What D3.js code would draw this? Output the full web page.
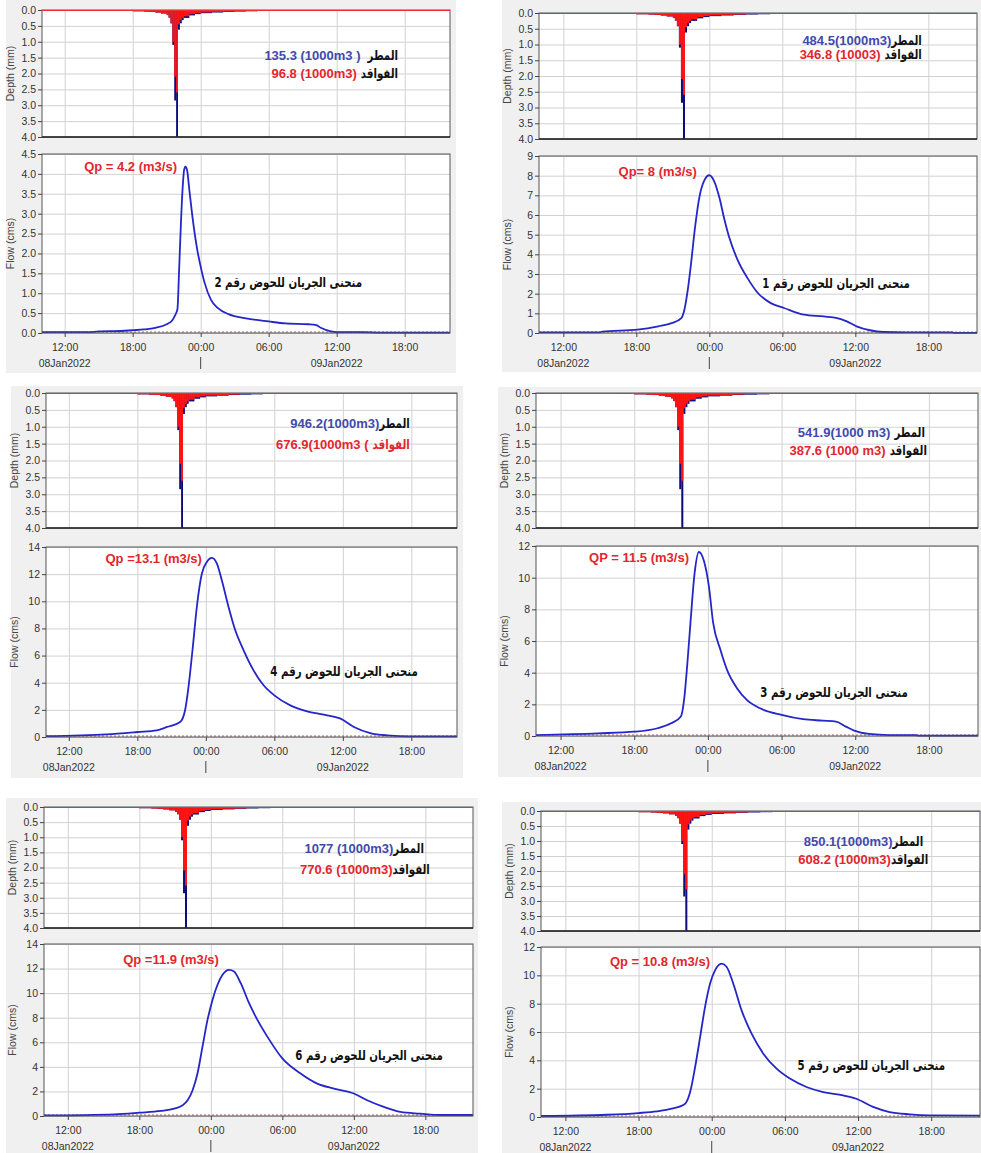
<!DOCTYPE html>
<html>
<head>
<meta charset="utf-8">
<script src="https://cdn.jsdelivr.net/npm/d3@7"></script>
<style>
  body { margin: 0; background: #fff; }
  svg text { font-family: "Liberation Sans", Arial, sans-serif; }
  .axis text { font-size: 10.5px; fill: #333; }
  .axis line { stroke: #444; }
  .axis path { display: none; }
  .grid line { stroke: #d2d2d2; }
  .grid path { display: none; }
  .num { font-size: 13px; font-weight: bold; direction: ltr; unicode-bidi: bidi-override; }
  .ar { font-family: "DejaVu Sans", sans-serif; font-size: 13.5px; font-weight: bold; }
</style>
</head>
<body>
<svg id="chart" width="981" height="1153"></svg>
<script>
// hours are counted from 08Jan2022 00:00 (24 = 09Jan2022 00:00)
const startHour = 10;
const endHour = 46;

// hyetograph, same storm in every panel: bar start hour, total rain (mm), loss (mm)
const rainHours = [15, 16, 17, 18, 19, 19.5, 20, 20.5, 21, 21.1667, 21.3333, 21.5, 21.6667, 21.8333,
  22, 22.1667, 22.3333, 22.5, 23, 23.5, 24, 25, 26, 27, 28, 29];
const rainTotal = [0.02, 0.02, 0.03, 0.04, 0.05, 0.06, 0.08, 0.11, 0.16, 0.24, 0.42, 1.1, 2.85, 4.0,
  0.62, 0.42, 0.32, 0.25, 0.17, 0.13, 0.1, 0.08, 0.06, 0.05, 0.04, 0.03];
const rainLoss = [0.02, 0.02, 0.03, 0.04, 0.05, 0.06, 0.08, 0.11, 0.16, 0.24, 0.42, 1.0, 2.1, 2.6,
  0.45, 0.32, 0.25, 0.2, 0.13, 0.1, 0.08, 0.06, 0.05, 0.03, 0.02, 0];
const rainEndHour = 34;

// outflow hydrographs [hour, flow (cms)]
const flowBasin2 = [[10, 0.02], [14, 0.02], [15, 0.04], [17, 0.05], [18, 0.07], [19, 0.09], [20, 0.13],
  [21, 0.22], [21.5, 0.32], [21.75, 0.45], [21.95, 0.6], [22.1, 1.6], [22.25, 2.7], [22.4, 3.6],
  [22.55, 4.12], [22.65, 4.18], [22.8, 4.1], [23.0, 3.6], [23.27, 2.93], [23.7, 2.09], [24, 1.67],
  [24.35, 1.26], [24.9, 0.84], [25.5, 0.63], [26.5, 0.47], [28, 0.37], [30, 0.29], [31.5, 0.24],
  [33.5, 0.22], [34.2, 0.2], [34.6, 0.13], [35.5, 0.04], [36, 0.02], [38.3, 0.02], [40, 0.01], [46, 0.01]];
const flowBasin1 = [[10, 0.03], [15, 0.03], [15.2, 0.07], [18.1, 0.17], [19.8, 0.34], [20.9, 0.5],
  [21.7, 0.76], [21.95, 1.18], [22.23, 2.2], [22.5, 3.55], [22.83, 5.4], [23.18, 6.9], [23.6, 7.77],
  [24, 8.02], [24.41, 7.7], [24.82, 6.9], [25.23, 5.8], [25.64, 4.85], [26.32, 3.72], [27.14, 2.79],
  [27.95, 2.06], [29.05, 1.52], [30.14, 1.27], [31.77, 0.93], [33.4, 0.84], [34.5, 0.76], [35.3, 0.59],
  [36.1, 0.34], [37.2, 0.14], [38.3, 0.05], [40.2, 0.03], [43.9, 0.03], [44.2, 0.01], [46, 0.01]];
const flowBasin4 = [[10, 0.06], [15.3, 0.2], [18, 0.37], [19.7, 0.49], [20.6, 0.74], [21.75, 1.1],
  [22.18, 1.97], [22.48, 3.68], [22.86, 6.63], [23.21, 9.58], [23.65, 12.03], [24.09, 12.9],
  [24.53, 13.2], [24.97, 12.77], [25.4, 11.55], [25.99, 9.58], [26.58, 7.86], [27.31, 6.39],
  [28.18, 4.91], [29.06, 3.81], [30, 3.07], [31.4, 2.33], [32.87, 1.89], [34.33, 1.65], [35.8, 1.35],
  [36.97, 0.74], [38.4, 0.29], [39.9, 0.12], [41.9, 0.05], [46, 0.05]];
const flowBasin3 = [[10, 0.06], [15.07, 0.17], [18, 0.27], [19.9, 0.49], [21, 0.8], [21.8, 1.23],
  [22.06, 2.28], [22.33, 4.6], [22.6, 7.35], [22.92, 10.3], [23.27, 11.62], [23.68, 11.05],
  [24.08, 9.47], [24.43, 7.14], [25.02, 5.45], [25.56, 4.18], [26.37, 3.02], [27.17, 2.28],
  [28.25, 1.75], [30, 1.33], [31.75, 1.06], [33.36, 0.97], [34.44, 0.91], [35.25, 0.59], [35.92, 0.34],
  [37.13, 0.13], [38.74, 0.06], [40.9, 0.06], [41.2, 0.02], [46, 0.02]];
const flowBasin6 = [[10, 0.05], [15.9, 0.14], [18, 0.27], [19.8, 0.41], [20.93, 0.6], [21.63, 0.87],
  [22.05, 1.28], [22.47, 2.1], [22.88, 3.46], [23.3, 5.64], [23.72, 7.82], [24.14, 9.45], [24.56, 10.68],
  [24.98, 11.49], [25.53, 11.9], [25.95, 11.77], [26.51, 10.81], [27.21, 9.18], [27.91, 7.82],
  [28.74, 6.46], [30, 4.69], [31.53, 3.46], [32.93, 2.64], [34.33, 2.23], [36, 1.83], [37.12, 1.28],
  [38.51, 0.74], [39.91, 0.33], [41.58, 0.19], [43.26, 0.08], [46, 0.08]];
const flowBasin5 = [[10, 0.07], [15.4, 0.16], [18, 0.28], [19.5, 0.4], [20.73, 0.59], [21.82, 0.94],
  [22.23, 1.76], [22.64, 3.53], [23.05, 5.65], [23.45, 7.76], [23.86, 9.41], [24.27, 10.35],
  [24.82, 10.82], [25.23, 10.59], [25.77, 9.41], [26.45, 7.53], [27.27, 5.88], [28.23, 4.47],
  [29.32, 3.41], [30.41, 2.71], [31.77, 2.12], [33.14, 1.76], [34.77, 1.53], [35.86, 1.29],
  [37.23, 0.71], [38.59, 0.35], [40.23, 0.19], [41.86, 0.12], [46, 0.1]];

// one entry per panel, reading order: top-left, top-right, middle-left ...
const basinNumbers = [2, 1, 4, 3, 6, 5];
const flowSeries = [flowBasin2, flowBasin1, flowBasin4, flowBasin3, flowBasin6, flowBasin5];
const flowMax = [4.5, 9, 14, 12, 14, 12];
const flowStep = [0.5, 1, 2, 2, 2, 2];
const peakLabels = ["Qp = 4.2 (m3/s)", "Qp= 8 (m3/s)", "Qp =13.1 (m3/s)", "QP = 11.5 (m3/s)",
  "Qp =11.9 (m3/s)", "Qp = 10.8 (m3/s)"];
const rainVolumes = ["135.3 (1000m3 )", "484.5(1000m3)", "946.2(1000m3)", "541.9(1000 m3)",
  "1077 (1000m3)", "850.1(1000m3)"];
const lossVolumes = ["96.8 (1000m3)", "346.8 (10003)", "676.9(1000m3 (", "387.6 (1000 m3)",
  "770.6 (1000m3)", "608.2 (1000m3)"];
const rainWord = "المطر";
const lossWord = "الفواقد";
const basinTitle = "منحنى الجريان للحوض رقم ";

// layout: background box, plot x range, hyetograph / hydrograph y ranges,
// label anchors in data units [hour, value]
const layout = [
  { bg: [6, 0, 456, 373], x: [42, 450], hyeto: [10, 137], hydro: [154, 333],
    qp: [21.91, 4.07], basin: [38.24, 1.16], rain: [41.42, 1.57, 41.42, 2.14], gaps: [7, 4] },
  { bg: [502, 0, 981, 372], x: [539, 977], hyeto: [13, 139], hydro: [156, 333],
    qp: [22.98, 7.98], basin: [40.49, 2.29], rain: [41.47, 1.02, 41.47, 1.46], gaps: [0, 4] },
  { bg: [11, 386, 463, 778], x: [46, 457], hyeto: [393, 528], hydro: [547, 737],
    qp: [23.66, 12.82], basin: [42.57, 4.5], rain: [41.87, 1.04, 41.87, 1.66], gaps: [0, 4] },
  { bg: [498, 387, 981, 777], x: [536, 978], hyeto: [393, 528], hydro: [546, 736],
    qp: [22.46, 10.99], basin: [40.29, 2.46], rain: [41.68, 1.3, 41.84, 1.84], gaps: [4, 4] },
  { bg: [6, 798, 478, 1153], x: [44, 473], hyeto: [807, 928], hydro: [944, 1116],
    qp: [24.68, 12.37], basin: [43.47, 4.56], rain: [41.88, 1.52, 42.38, 2.21], gaps: [0, 0] },
  { bg: [502, 802, 981, 1153], x: [541, 980], hyeto: [811, 931], hydro: [947, 1117],
    qp: [23.86, 10.66], basin: [43.14, 3.32], rain: [41.34, 1.17, 41.75, 1.77], gaps: [0, 0] }
];
const arabicSqueeze = 0.76;

const t0 = new Date(2022, 0, 8);
const toDate = h => new Date(+t0 + h * 3600 * 1000);
const sixHours = d3.timeHour.every(6);

const svg = d3.select("#chart");

const rain = rainHours.map((h, i) => ({
  start: h,
  end: i + 1 < rainHours.length ? rainHours[i + 1] : rainEndHour,
  total: rainTotal[i],
  loss: rainLoss[i]
}));

// arabic text with its right edge at `right`; DejaVu is wide so it is squeezed
function arabicText(g, right, y, str, color) {
  const holder = g.append("g")
    .attr("transform", `translate(${right},${y}) scale(${arabicSqueeze},1)`);
  const t = holder.append("text")
    .attr("class", "ar")
    .attr("text-anchor", "middle")
    .attr("fill", color)
    .text(str);
  const w = t.node().getComputedTextLength();
  t.attr("x", -w / 2);
  return w * arabicSqueeze;
}

function volumeLabel(g, x, y, value, word, gap, valueColor, wordColor) {
  const ww = arabicText(g, x, y, word, wordColor);
  g.append("text")
    .attr("class", "num")
    .attr("x", x - ww - gap)
    .attr("y", y)
    .attr("text-anchor", "end")
    .attr("fill", valueColor)
    .text(value);
}

basinNumbers.forEach((basin, i) => {
  const L = layout[i];
  const g = svg.append("g");
  const width = L.x[1] - L.x[0];

  g.append("rect")
    .attr("x", L.bg[0]).attr("y", L.bg[1])
    .attr("width", L.bg[2] - L.bg[0]).attr("height", L.bg[3] - L.bg[1])
    .attr("fill", "#f0f0f0");

  const xScale = d3.scaleTime()
    .domain([toDate(startHour), toDate(endHour)])
    .range(L.x);
  const yRain = d3.scaleLinear().domain([0, 4]).range(L.hyeto);
  const yFlow = d3.scaleLinear().domain([0, flowMax[i]]).range([L.hydro[1], L.hydro[0]]);

  // ---- hyetograph ----
  const hH = L.hyeto[1] - L.hyeto[0];
  g.append("rect")
    .attr("x", L.x[0]).attr("y", L.hyeto[0])
    .attr("width", width).attr("height", hH)
    .attr("fill", "#fff");

  g.append("g")
    .attr("class", "grid")
    .attr("transform", `translate(0,${L.hyeto[1]})`)
    .call(d3.axisBottom(xScale).ticks(sixHours).tickSize(-hH).tickFormat(""));
  g.append("g")
    .attr("class", "grid")
    .attr("transform", `translate(${L.x[0]},0)`)
    .call(d3.axisLeft(yRain).tickValues(d3.range(0, 4.01, 0.5)).tickSize(-width).tickFormat(""));

  g.append("g").selectAll("rect")
    .data(rain)
    .join("rect")
    .attr("x", d => xScale(toDate(d.start)))
    .attr("y", yRain(0))
    .attr("width", d => xScale(toDate(d.end)) - xScale(toDate(d.start)))
    .attr("height", d => yRain(d.total) - yRain(0))
    .attr("fill", "#0d0d78");
  g.append("g").selectAll("rect")
    .data(rain.filter(d => d.loss > 0))
    .join("rect")
    .attr("x", d => xScale(toDate(d.start)))
    .attr("y", yRain(0))
    .attr("width", d => xScale(toDate(d.end)) - xScale(toDate(d.start)))
    .attr("height", d => yRain(d.loss) - yRain(0))
    .attr("fill", "#ff1414");

  g.append("rect")
    .attr("x", L.x[0]).attr("y", L.hyeto[0])
    .attr("width", width).attr("height", hH)
    .attr("fill", "none")
    .attr("stroke", "#555");
  g.append("line")
    .attr("x1", L.x[0]).attr("x2", L.x[1])
    .attr("y1", yRain(0) + 0.5).attr("y2", yRain(0) + 0.5)
    .attr("stroke", "#f03030");
  g.append("line")
    .attr("x1", L.x[0]).attr("x2", L.x[1])
    .attr("y1", L.hyeto[1]).attr("y2", L.hyeto[1])
    .attr("stroke", "#222").attr("stroke-width", 1.5);

  g.append("g")
    .attr("class", "axis")
    .attr("transform", `translate(${L.x[0]},0)`)
    .call(d3.axisLeft(yRain).tickValues(d3.range(0, 4.01, 0.5))
      .tickFormat(d3.format(".1f")).tickSize(4).tickPadding(2));

  g.append("text")
    .attr("transform", `translate(${L.x[0] - 28},${(L.hyeto[0] + L.hyeto[1]) / 2}) rotate(-90)`)
    .attr("text-anchor", "middle")
    .attr("font-size", "10.5px")
    .attr("fill", "#444")
    .text("Depth (mm)");

  volumeLabel(g, xScale(toDate(L.rain[0])), yRain(L.rain[1]), rainVolumes[i], rainWord,
    L.gaps[0], "#4149ad", "#111");
  volumeLabel(g, xScale(toDate(L.rain[2])), yRain(L.rain[3]), lossVolumes[i], lossWord,
    L.gaps[1], "#e3262e", i === 2 ? "#e3262e" : "#111");

  // ---- hydrograph ----
  const fH = L.hydro[1] - L.hydro[0];
  const flowTicks = d3.range(0, flowMax[i] + 1e-6, flowStep[i]);
  g.append("rect")
    .attr("x", L.x[0]).attr("y", L.hydro[0])
    .attr("width", width).attr("height", fH)
    .attr("fill", "#fff");

  g.append("g")
    .attr("class", "grid")
    .attr("transform", `translate(0,${L.hydro[1]})`)
    .call(d3.axisBottom(xScale).ticks(sixHours).tickSize(-fH).tickFormat(""));
  g.append("g")
    .attr("class", "grid")
    .attr("transform", `translate(${L.x[0]},0)`)
    .call(d3.axisLeft(yFlow).tickValues(flowTicks).tickSize(-width).tickFormat(""));

  g.append("line")
    .attr("x1", L.x[0]).attr("x2", L.x[1])
    .attr("y1", yFlow(0) - 1).attr("y2", yFlow(0) - 1)
    .attr("stroke", "#b06060")
    .attr("stroke-dasharray", "2,2");

  const line = d3.line()
    .x(d => xScale(toDate(d[0])))
    .y(d => yFlow(d[1]))
    .curve(d3.curveMonotoneX);

  g.append("path")
    .datum(flowSeries[i])
    .attr("d", line)
    .attr("fill", "none")
    .attr("stroke", "#2525c8")
    .attr("stroke-width", 1.8);

  g.append("rect")
    .attr("x", L.x[0]).attr("y", L.hydro[0])
    .attr("width", width).attr("height", fH)
    .attr("fill", "none")
    .attr("stroke", "#555");

  g.append("g")
    .attr("class", "axis")
    .attr("transform", `translate(${L.x[0]},0)`)
    .call(d3.axisLeft(yFlow).tickValues(flowTicks)
      .tickFormat(d3.format(flowStep[i] < 1 ? ".1f" : "d")).tickSize(4).tickPadding(2));

  g.append("g")
    .attr("class", "axis")
    .attr("transform", `translate(0,${L.hydro[1]})`)
    .call(d3.axisBottom(xScale).ticks(sixHours)
      .tickFormat(d3.timeFormat("%H:%M")).tickSize(4).tickPadding(7));

  const days = d3.timeDay.range(d3.timeDay.floor(toDate(startHour)), toDate(endHour));
  g.append("g")
    .attr("class", "axis")
    .selectAll("text")
    .data(days)
    .join("text")
    .attr("x", d => xScale(d3.timeHour.offset(d, 12)))
    .attr("y", L.hydro[1] + 34)
    .attr("text-anchor", "middle")
    .text(d3.timeFormat("%d%b%Y"));
  days.slice(1).forEach(d => {
    g.append("line")
      .attr("x1", xScale(d)).attr("x2", xScale(d))
      .attr("y1", L.hydro[1] + 24).attr("y2", L.hydro[1] + 36)
      .attr("stroke", "#444");
  });

  g.append("text")
    .attr("transform", `translate(${L.x[0] - 28},${(L.hydro[0] + L.hydro[1]) / 2}) rotate(-90)`)
    .attr("text-anchor", "middle")
    .attr("font-size", "10.5px")
    .attr("fill", "#444")
    .text("Flow (cms)");

  g.append("text")
    .attr("class", "num")
    .attr("x", xScale(toDate(L.qp[0])))
    .attr("y", yFlow(L.qp[1]))
    .attr("text-anchor", "end")
    .attr("font-size", "12.5px")
    .attr("fill", "#e3262e")
    .text(peakLabels[i]);

  arabicText(g, xScale(toDate(L.basin[0])), yFlow(L.basin[1]), basinTitle + basin, "#111");
});
</script>
</body>
</html>
